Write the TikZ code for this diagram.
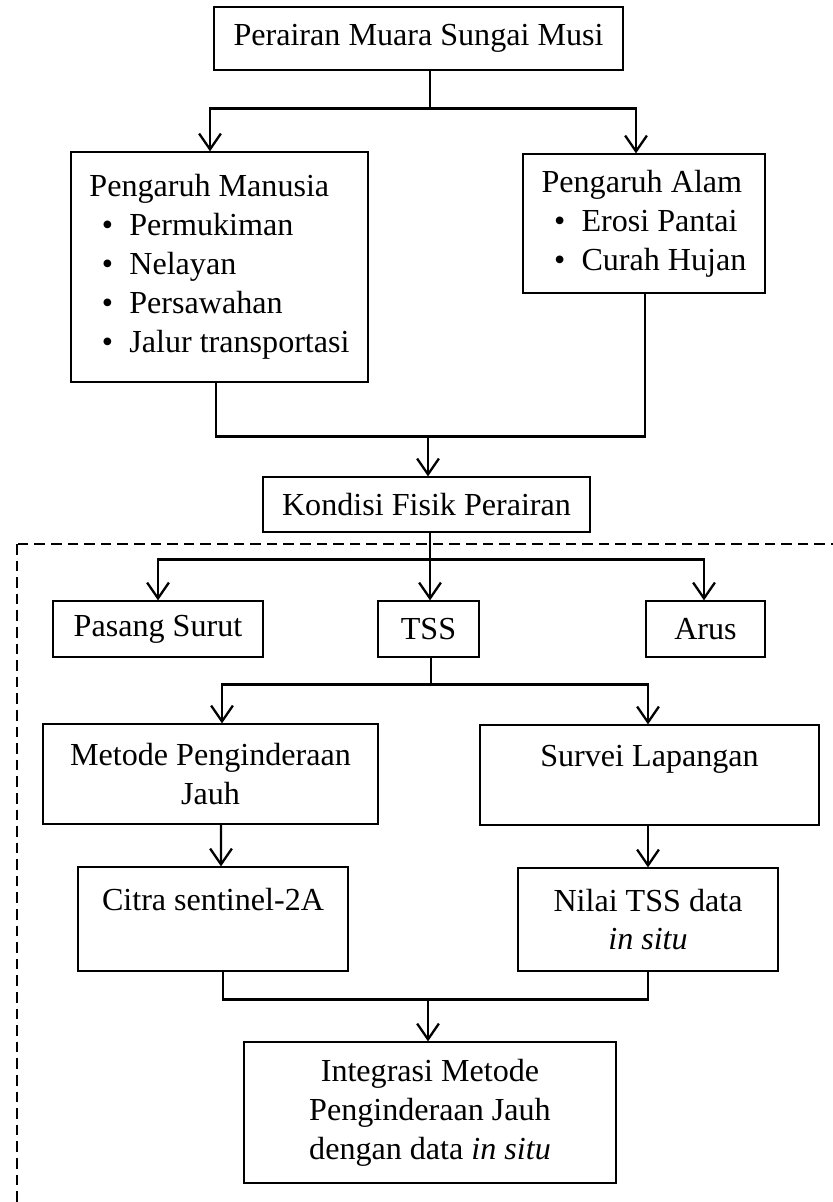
\documentclass[tikz,border=0pt]{standalone}
\usepackage{fontspec}
\setmainfont{Liberation Serif}
\usetikzlibrary{arrows.meta,positioning,calc}
\def\pxu{0.3676pt}
\newcommand\itm[1]{\makebox[14.7pt][l]{\hspace{4.6pt}\textbullet}#1}
\tikzset{
  box/.style={draw=black, line width=0.45pt, inner sep=0pt, align=center,
    font=\fontsize{11.8pt}{14.3pt}\selectfont},
  sz/.style 2 args={minimum width=#1*\pxu, minimum height=#2*\pxu},
  link/.style={draw=black, line width=0.85pt},
  arr/.style={link, -{Straight Barb[length=5.8pt,width=8pt]}},
  frame/.style={draw=black, line width=0.9pt, dash pattern=on 3.9pt off 2.2pt},
}

\begin{document}
\begin{tikzpicture}[x=\pxu, y=-\pxu]
\useasboundingbox (0,0) rectangle (832,1202);

% dashed area (runs off the page to the right and bottom)
\draw[frame] (17,544) rectangle (870,1240);

\node[box, sz={409}{63}] (muara) at (418.5,38.5) {Perairan Muara Sungai Musi};
\node[box, sz={297}{230}, align=left] (manusia) at (219.5,267)
  {Pengaruh Manusia\\\itm{Permukiman}\\\itm{Nelayan}\\\itm{Persawahan}\\\itm{Jalur transportasi}};
\node[box, sz={242}{139}, align=left] (alam) at (644,223.5)
  {Pengaruh Alam\\\itm{Erosi Pantai}\\\itm{Curah Hujan}};
\node[box, sz={327}{55}] (kondisi) at (426.5,504.5) {Kondisi Fisik Perairan};

\node[box, sz={210}{56}] (pasut) at (158,629) {Pasang Surut};
\node[box, sz={101}{56}] (tss) at (428.5,629) {TSS};
\node[box, sz={119}{56}] (arus) at (705.5,629) {Arus};

\node[box, sz={335}{100}] (metode) at (210.5,774) {Metode Penginderaan\\Jauh};
\node[box, sz={339}{100}] (survei) at (649.5,775) {Survei Lapangan\\\mbox{}};
\node[box, sz={270}{104}] (citra) at (213,919) {Citra sentinel-2A\\\mbox{}};
\node[box, sz={260}{103}] (nilai) at (648,919.5) {Nilai TSS data\\\textit{in situ}};
\node[box, sz={372}{141}] (integrasi) at (430,1112.5)
  {\mbox{}\\[-6pt]Integrasi Metode\\Penginderaan Jauh\\dengan data \textit{in situ}};

% connectors
\draw[link] ([xshift=11.5*\pxu]muara.south) -- ++(0,38) coordinate (b1);
\draw[arr] (b1) -| ([xshift=-9.5*\pxu]manusia.north);
\draw[arr] (b1) -| ([xshift=-8*\pxu]alam.north);

\draw[link] ([xshift=-3.5*\pxu]manusia.south) -- ++(0,54) coordinate (b2)
  -| ([xshift=1*\pxu]alam.south);
\draw[arr] (b2 -| kondisi.north) ++(1.5,0) -- ([xshift=1.5*\pxu]kondisi.north);

\draw[link] ([xshift=3.5*\pxu]kondisi.south) -- ++(0,27) coordinate (b3);
\draw[arr] (b3) -| (pasut.north);
\draw[arr] (b3) -- ([xshift=1.5*\pxu]tss.north);
\draw[arr] (b3) -| ([xshift=-1.5*\pxu]arus.north);

\draw[link] ([xshift=2.5*\pxu]tss.south) -- ++(0,27) coordinate (b4);
\draw[arr] (b4) -| ([xshift=11.5*\pxu]metode.north);
\draw[arr] (b4) -| ([xshift=-1.5*\pxu]survei.north);

\draw[arr] ([xshift=10.5*\pxu]metode.south) -- ([xshift=8*\pxu]citra.north);
\draw[arr] ([xshift=-1.5*\pxu]survei.south) -- (nilai.north);

\draw[link] ([xshift=10*\pxu]citra.south) -- ++(0,28) coordinate (b5) -| (nilai.south);
\draw[arr] (b5 -| integrasi.north) ++(-2,0) -- ([xshift=-2*\pxu]integrasi.north);
\end{tikzpicture}
\end{document}
